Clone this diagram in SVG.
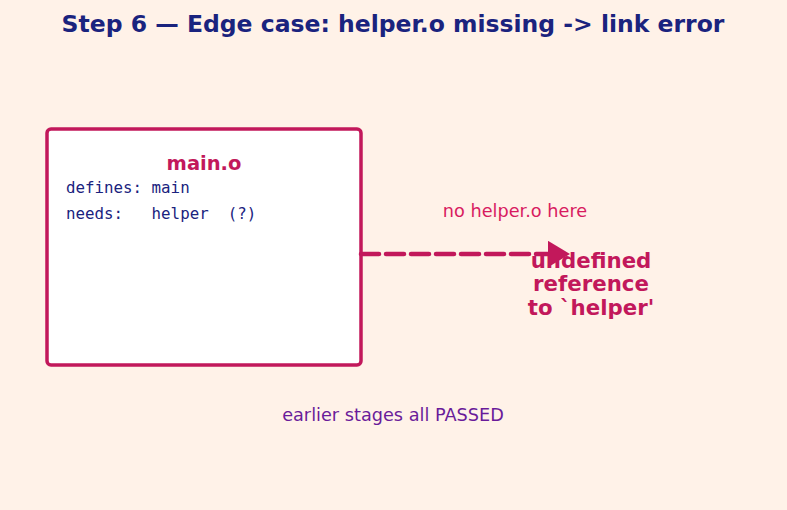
<svg xmlns="http://www.w3.org/2000/svg" width="787" height="510" viewBox="0 0 787 510">
<style>
.title{font-family:"DejaVu Sans",sans-serif;font-weight:bold;font-size:23.5px;fill:#1a237e}
.node{fill:#ffffff;stroke:#c2185b;stroke-width:3.5}
.name{font-family:"DejaVu Sans",sans-serif;font-weight:bold;font-size:19.5px;fill:#c2185b}
.mono{font-family:"DejaVu Sans Mono",monospace;font-size:15.8px;fill:#1a237e}
.lbl{font-family:"DejaVu Sans",sans-serif;font-size:17.7px;fill:#d81b60}
.err{font-family:"DejaVu Sans",sans-serif;font-weight:bold;font-size:21.3px;fill:#c2185b}
.note{font-family:"DejaVu Sans",sans-serif;font-size:17.7px;fill:#6a1b9a}
.edge{stroke:#c2185b;stroke-width:4.5;fill:none;stroke-dasharray:18 7;stroke-linecap:round}
</style>
<defs>
<marker id="ah" markerWidth="6" markerHeight="6" refX="1" refY="3" orient="auto" markerUnits="strokeWidth">
<path d="M0,0 L5,3 L0,6 Z" fill="#c2185b"/>
</marker>
</defs>
<rect width="787" height="510" fill="#fff2e8"/>
<text class="title" x="393" y="32" text-anchor="middle">Step 6 — Edge case: helper.o missing -&gt; link error</text>
<g id="main_o">
<rect class="node" x="47" y="129" width="314" height="236" rx="4"/>
<text class="name" x="204" y="170" text-anchor="middle">main.o</text>
<text class="mono" x="66" y="193" xml:space="preserve">defines: main</text>
<text class="mono" x="66" y="219" xml:space="preserve">needs:   helper  (?)</text>
</g>
<g id="connectors">
<line class="edge" x1="361" y1="254" x2="552" y2="254" marker-end="url(#ah)"/>
</g>
<g id="labels">
<text class="lbl" x="515" y="217" text-anchor="middle">no helper.o here</text>
<text class="err" text-anchor="middle"><tspan x="591" y="268">undefined</tspan><tspan x="591" y="291">reference</tspan><tspan x="591" y="315">to `helper'</tspan></text>
<text class="note" x="393" y="421" text-anchor="middle">earlier stages all PASSED</text>
</g>
</svg>
